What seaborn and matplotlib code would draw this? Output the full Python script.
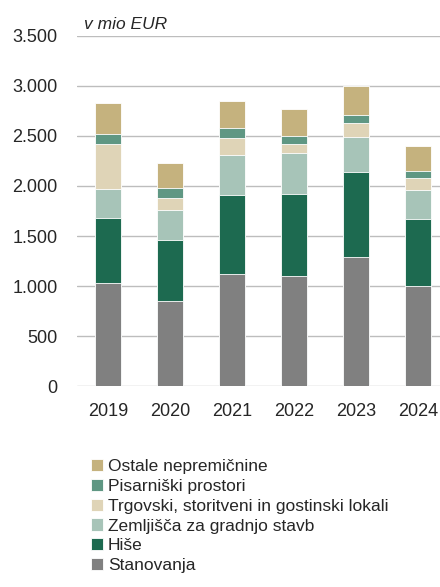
import numpy as np
import pandas as pd
import seaborn as sns
from matplotlib import pyplot as plt

sns.set_style('white')
plt.rcParams['font.family'] = ['Liberation Sans', 'DejaVu Sans']

years = ['2019', '2020', '2021', '2022', '2023', '2024']
stanovanja = [1030, 853, 1123, 1100, 1290, 997]
hise = [653, 607, 790, 823, 847, 676]
zemljisca = [287, 297, 394, 404, 350, 284]
trgovski = [447, 120, 173, 93, 143, 126]
pisarniski = [106, 106, 103, 77, 77, 70]
ostale = [307, 247, 264, 273, 296, 247]

names = ['Stanovanja', 'Hiše', 'Zemljišča za gradnjo stavb',
         'Trgovski, storitveni in gostinski lokali', 'Pisarniški prostori',
         'Ostale nepremičnine']
colors = ['#808080', '#1d6a50', '#a7c4b8', '#dfd4b7', '#5f9783', '#c5b27e']
series = [stanovanja, hise, zemljisca, trgovski, pisarniski, ostale]

df = pd.DataFrame({'year': years})
cum = np.zeros(len(years))
for n, s in zip(names, series):
    cum = cum + np.array(s)
    df[n] = cum

fig = plt.figure(figsize=(4.4, 5.87), dpi=100)
ax = fig.add_axes([0.175, 0.342, 1.02 - 0.175, 0.939 - 0.342])

# draw cumulative totals from the top layer down
for n, c in reversed(list(zip(names, colors))):
    sns.barplot(data=df, x='year', y=n, color=c, width=0.41, ax=ax,
                edgecolor='white', linewidth=0.6, label=n, saturation=1)

ax.set_ylim(0, 3500)
ax.set_yticks(range(0, 3501, 500))
ax.set_yticklabels([f'{v:,}'.replace(',', '.') for v in range(0, 3501, 500)])
ax.yaxis.grid(True, color='#bdbdbd', lw=1)
ax.set_axisbelow(True)
sns.despine(ax=ax, left=True, bottom=True, top=True, right=True)
ax.tick_params(axis='both', length=0, labelsize=13)
ax.tick_params(axis='x', pad=12)
ax.tick_params(axis='y', pad=14)
ax.set_xlabel('')
ax.set_ylabel('')
ax.text(0.02, 1.01, 'v mio EUR', transform=ax.transAxes, fontsize=12.5,
        style='italic', va='bottom')

handles, labels = ax.get_legend_handles_labels()
ax.legend(handles, labels, loc='upper left', bbox_to_anchor=(0.19, 0.23),
          bbox_transform=fig.transFigure, frameon=False, fontsize=12.5,
          handlelength=0.7, handleheight=0.7, handletextpad=0.3,
          labelspacing=0.27, borderaxespad=0)

fig.savefig('out.png', dpi=100)
